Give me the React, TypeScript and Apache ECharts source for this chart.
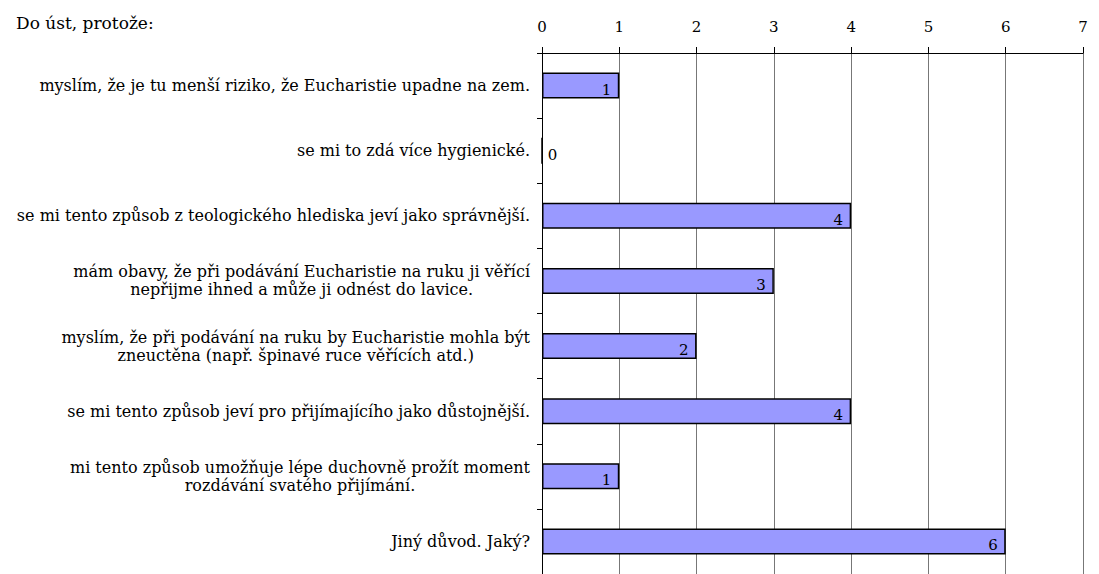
import React, { useEffect, useRef } from "react";
import * as echarts from "echarts";

const titleText = "Do úst, protože:";
const categories = [
  "myslím, že je tu menší riziko, že Eucharistie upadne na zem.",
  "se mi to zdá více hygienické.",
  "se mi tento způsob z teologického hlediska jeví jako správnější.",
  "mám obavy, že při podávání Eucharistie na ruku ji věřící\nnepřijme ihned a může ji odnést do lavice.",
  "myslím, že při podávání na ruku by Eucharistie mohla být\nzneuctěna (např. špinavé ruce věřících atd.)",
  "se mi tento způsob jeví pro přijímajícího jako důstojnější.",
  "mi tento způsob umožňuje lépe duchovně prožít moment\nrozdávání svatého přijímání.",
  "Jiný důvod. Jaký?",
];
const values = [1, 0, 4, 3, 2, 4, 1, 6];
const axisMin = 0;
const axisMax = 7;

const FONT = "DejaVu Serif";

export default function App() {
  const ref = useRef<HTMLDivElement>(null);
  useEffect(() => {
    if (!ref.current) return;
    const chart = echarts.init(ref.current, null, { renderer: "svg" });
    chart.setOption({
      animation: false,
      title: {
        text: titleText,
        left: 11,
        top: 9,
        textStyle: { fontFamily: FONT, fontSize: 17, fontWeight: "normal", color: "#000" },
      },
      grid: { left: 542, right: 16, top: 53, bottom: -2, containLabel: false },
      xAxis: {
        type: "value",
        position: "top",
        min: axisMin,
        max: axisMax,
        interval: 1,
        axisLine: { show: true, lineStyle: { color: "#000", width: 1 } },
        axisTick: { show: true, length: 6, lineStyle: { color: "#000" } },
        axisLabel: { margin: 19, fontFamily: FONT, fontSize: 15, color: "#000" },
        splitLine: { show: true, lineStyle: { color: "#777", width: 1 } },
      },
      yAxis: {
        type: "category",
        inverse: true,
        data: categories,
        axisLine: { show: true, lineStyle: { color: "#000", width: 1 } },
        axisTick: { show: true, length: 5, lineStyle: { color: "#000" } },
        axisLabel: {
          margin: 12,
          align: "right",
          fontFamily: FONT,
          fontSize: 16,
          color: "#000",
          lineHeight: 18,
          formatter: (v: string) =>
            v
              .split("\n")
              .map((l) => "{c|" + l + "}")
              .join("\n"),
          rich: {
            c: { align: "center", fontFamily: FONT, fontSize: 16, color: "#000", lineHeight: 18 },
          },
        },
      },
      series: [
        {
          type: "bar",
          barWidth: 26,
          data: values.map((v) => ({
            value: v,
            label:
              v === 0
                ? { position: "right", distance: 5 }
                : { position: "insideRight", distance: 8 },
          })),
          itemStyle: { color: "#9999ff", borderColor: "#000", borderWidth: 1.5 },
          label: {
            show: true,
            fontFamily: FONT,
            fontSize: 15,
            color: "#000",
            verticalAlign: "middle",
            offset: [0, 4],
          },
        },
      ],
    });
    return () => chart.dispose();
  }, []);
  return (
    <div
      ref={ref}
      style={{ position: "fixed", left: 0, top: 0, width: 1099, height: 574, background: "#fff" }}
    />
  );
}
